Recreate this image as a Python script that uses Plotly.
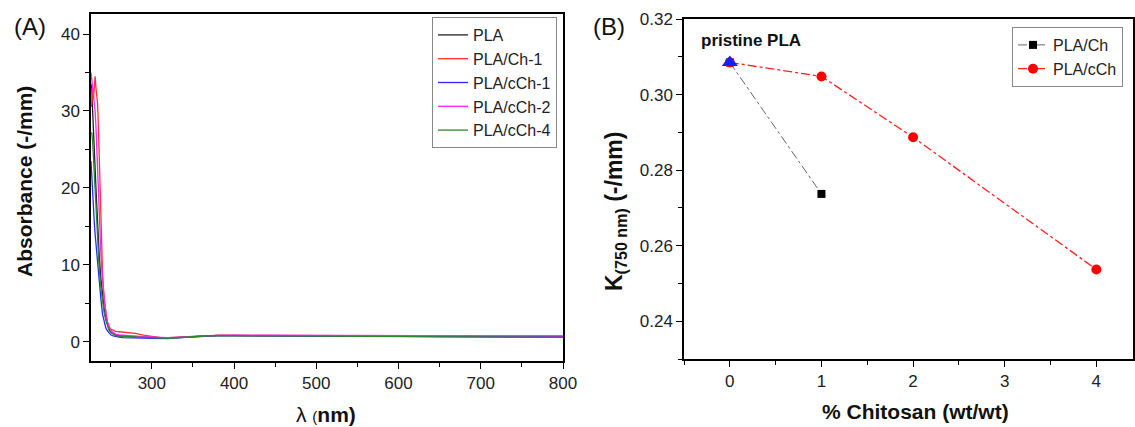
import plotly.graph_objects as go

# ---------------- Panel A data ----------------
wavelength = [226, 227, 228, 229, 230, 231, 232, 233, 234, 235, 236, 238, 240, 242, 244, 246, 248, 250,
              253, 256, 260, 265, 270, 280, 290, 300, 310, 320, 330, 340, 350, 360, 370, 380, 400,
              450, 500, 550, 600, 650, 700, 750, 800]
abs_pla = [33.5, 33, 30, 28, 25, 22.5, 20, 17.5, 15, 13, 11.2, 8.2, 6, 4.3, 3.1, 2.2, 1.6, 1.25,
           1.0, 0.85, 0.78, 0.72, 0.7, 0.65, 0.6, 0.55, 0.5, 0.5, 0.55, 0.62, 0.7, 0.76, 0.8, 0.82, 0.82,
           0.78, 0.75, 0.72, 0.7, 0.68, 0.66, 0.65, 0.64]
abs_ch1 = [30.5, 31, 33, 31.5, 33, 34.5, 33, 31.5, 31, 28, 24, 15, 9, 5.5, 3.5, 2.4, 1.9, 1.6,
           1.5, 1.35, 1.3, 1.25, 1.2, 1.1, 0.85, 0.65, 0.55, 0.52, 0.55, 0.62, 0.7, 0.76, 0.8, 0.82, 0.82,
           0.8, 0.78, 0.76, 0.75, 0.74, 0.73, 0.72, 0.72]
abs_cch1 = [23.5, 21, 19, 17.2, 15.5, 14, 12.7, 11.3, 10, 8.8, 7.6, 5.6, 3.6, 2.5, 1.8, 1.4, 1.1, 0.9,
            0.75, 0.65, 0.6, 0.55, 0.52, 0.5, 0.48, 0.45, 0.4, 0.42, 0.5, 0.58, 0.65, 0.72, 0.75, 0.78, 0.78,
            0.76, 0.74, 0.72, 0.7, 0.68, 0.66, 0.65, 0.64]
abs_cch2 = [35, 34, 33.5, 32, 31, 30, 28, 25, 22, 19, 16, 11.5, 8, 5.5, 3.8, 2.6, 1.9, 1.5,
            1.2, 1.0, 0.9, 0.85, 0.8, 0.72, 0.65, 0.6, 0.55, 0.52, 0.56, 0.63, 0.72, 0.78, 0.82, 0.84, 0.85,
            0.83, 0.81, 0.8, 0.79, 0.78, 0.77, 0.76, 0.76]
abs_cch4 = [27, 27.2, 26, 24, 21.5, 19, 16.5, 14.5, 12.5, 11, 9.5, 7, 5.2, 3.8, 2.8, 2, 1.5, 1.2,
            0.95, 0.8, 0.75, 0.7, 0.68, 0.62, 0.58, 0.52, 0.45, 0.45, 0.52, 0.6, 0.68, 0.75, 0.78, 0.8, 0.8,
            0.77, 0.74, 0.7, 0.67, 0.64, 0.62, 0.6, 0.58]
series_names_a = ["PLA", "PLA/Ch-1", "PLA/cCh-1", "PLA/cCh-2", "PLA/cCh-4"]
series_colors_a = ["#222222", "#ff3333", "#2a2aff", "#ff22ff", "#2a8a2a"]

# ---------------- Panel B data ----------------
chitosan_ch = [0, 1]
k_ch = [0.3085, 0.2737]
chitosan_cch = [0, 1, 2, 4]
k_cch = [0.3085, 0.3048, 0.2887, 0.2537]
pristine_x = [0]
pristine_k = [0.3085]

W, H = 1135, 427
FONT = "Liberation Sans, Arial, sans-serif"

fig = go.Figure()
for name, color, ys in zip(series_names_a, series_colors_a,
                           [abs_pla, abs_ch1, abs_cch1, abs_cch2, abs_cch4]):
    fig.add_trace(go.Scatter(x=wavelength, y=ys, mode="lines", name=name,
                             line=dict(color=color, width=1.3),
                             xaxis="x", yaxis="y", legend="legend"))

fig.add_trace(go.Scatter(x=chitosan_ch, y=k_ch, mode="lines+markers", name="PLA/Ch",
                         line=dict(color="#666666", width=1, dash="dashdot"),
                         marker=dict(symbol="square", size=8, color="black"),
                         xaxis="x2", yaxis="y2", legend="legend2"))
fig.add_trace(go.Scatter(x=chitosan_cch, y=k_cch, mode="lines+markers", name="PLA/cCh",
                         line=dict(color="#ff2020", width=1.3, dash="dashdot"),
                         marker=dict(symbol="circle", size=10, color="#ff0000"),
                         xaxis="x2", yaxis="y2", legend="legend2"))
fig.add_trace(go.Scatter(x=pristine_x, y=pristine_k, mode="markers", name="pristine PLA",
                         marker=dict(symbol="triangle-up", size=14, color="#1020ff"),
                         showlegend=False, xaxis="x2", yaxis="y2"))

tickfont = dict(family=FONT, size=17, color="#222222")
common = dict(showline=True, linecolor="black", linewidth=1.5, mirror=True,
              ticks="outside", ticklen=6, tickwidth=1.3, tickcolor="black",
              showgrid=False, zeroline=False, tickfont=tickfont, automargin=False)

fig.update_layout(
    template="none",
    width=W, height=H,
    margin=dict(l=0, r=0, t=0, b=0, pad=0, autoexpand=False),
    paper_bgcolor="white", plot_bgcolor="white",
    font=dict(family=FONT, color="#222222"),
    xaxis=dict(domain=[91 / W, 563 / W], range=[226, 800], tickvals=[300, 400, 500, 600, 700, 800],
               minor=dict(ticks="outside", ticklen=4, dtick=50, tick0=0, tickcolor="black"),
               anchor="y", **common),
    yaxis=dict(domain=[1 - 361 / H, 1 - 14 / H], range=[-2.5, 42.6], tickvals=[0, 10, 20, 30, 40],
               minor=dict(ticks="outside", ticklen=4, dtick=5, tick0=0, tickcolor="black"),
               anchor="x", **common),
    xaxis2=dict(domain=[684 / W, 1133 / W], range=[-0.5, 4.4], tickvals=[0, 1, 2, 3, 4],
                minor=dict(ticks="outside", ticklen=4, dtick=0.5, tick0=0, tickcolor="black"),
                anchor="y2", **common),
    yaxis2=dict(domain=[1 - 359 / H, 1 - 19 / H], range=[0.23, 0.32],
                tickvals=[0.24, 0.26, 0.28, 0.30, 0.32], tickformat=".2f",
                minor=dict(ticks="outside", ticklen=4, dtick=0.01, tick0=0, tickcolor="black"),
                anchor="x2", **common),
    legend=dict(x=557 / W, y=1 - 17 / H, xanchor="right", yanchor="top",
                bgcolor="white", bordercolor="#888888", borderwidth=1,
                font=dict(family=FONT, size=16, color="#222222")),
    legend2=dict(x=1012 / W, y=1 - 27 / H, xanchor="left", yanchor="top",
                 bgcolor="white", bordercolor="#888888", borderwidth=1,
                 font=dict(family=FONT, size=16, color="#222222")),
)

def px(x, y):
    return x / W, 1 - y / H

annos = [
    dict(text="(A)", pos=(30, 27), size=24, angle=0),
    dict(text="(B)", pos=(609, 27), size=24, angle=0),
    dict(text="<b>Absorbance (-/mm)</b>", pos=(24, 182), size=21, angle=-90),
    dict(text="λ <span style='font-size:15px'>(</span><b>nm)</b>", pos=(326, 414), size=21, angle=0),
    dict(text="<b>K<sub>(750 nm)</sub> (-/mm)</b>", pos=(615, 212), size=23, angle=-90),
    dict(text="<b>% Chitosan (wt/wt)</b>", pos=(915, 411), size=21, angle=0),
    dict(text="<b>pristine PLA</b>", pos=(751, 40), size=17, angle=0),
]
for a in annos:
    ax, ay = px(*a["pos"])
    fig.add_annotation(x=ax, y=ay, xref="paper", yref="paper", text=a["text"],
                       showarrow=False, textangle=a["angle"], xanchor="center", yanchor="middle",
                       font=dict(family=FONT, size=a["size"], color="#111111"))

fig.write_html("out.html", config={"displayModeBar": False},
               post_script="document.body.style.margin='0px';")
